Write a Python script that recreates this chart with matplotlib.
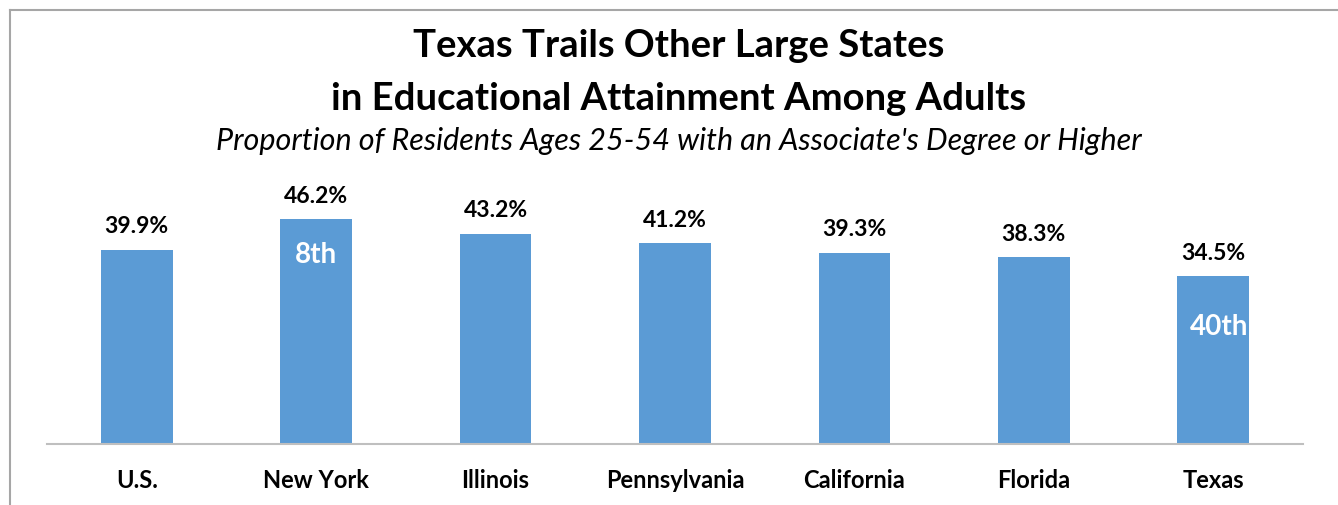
import matplotlib
matplotlib.use("Agg")
import matplotlib.pyplot as plt
from matplotlib.lines import Line2D

categories = ["U.S.", "New York", "Illinois", "Pennsylvania", "California", "Florida", "Texas"]
values = [39.9, 46.2, 43.2, 41.2, 39.3, 38.3, 34.5]
value_labels = ["39.9%", "46.2%", "43.2%", "41.2%", "39.3%", "38.3%", "34.5%"]
rank_labels = {"New York": "8th", "Texas": "40th"}

title1 = "Texas Trails Other Large States"
title2 = "in Educational Attainment Among Adults"
subtitle = "Proportion of Residents Ages 25-54 with an Associate's Degree or Higher"

FONT = ["Lato", "DejaVu Sans"]
plt.rcParams["font.family"] = FONT

fig = plt.figure(figsize=(13.38, 5.06), dpi=100)
W, H = 1338, 506
ax = fig.add_axes([47 / W, 1 - 445 / H, (1303 - 47) / W, (445 - 201.5) / H])

x = list(range(len(categories)))
ax.bar(x, values, width=0.4, color="#5B9BD5", zorder=2)
ax.set_xlim(-0.5, len(categories) - 0.5)
ax.set_ylim(0, 50)

for xi, v, lab in zip(x, values, value_labels):
    ax.annotate(lab, (xi, v), xytext=(0, 12.5), textcoords="offset points",
                ha="center", va="baseline", fontsize=16.5, fontweight="bold",
                color="black", annotation_clip=False)

rank_offsets = {"New York": (0, -25), "Texas": (4, -36)}
for xi, cat in zip(x, categories):
    if cat in rank_labels:
        ax.annotate(rank_labels[cat], (xi, values[xi]), xytext=rank_offsets[cat],
                    textcoords="offset points", ha="center", va="center",
                    fontsize=20, fontweight="bold", color="white")

ax.set_xticks(x)
ax.set_xticklabels(categories, fontsize=17, fontweight="bold")
ax.tick_params(axis="x", length=0, pad=17)
ax.set_yticks([])
for s in ["top", "right", "left"]:
    ax.spines[s].set_visible(False)
ax.spines["bottom"].set_color("#BFBFBF")
ax.spines["bottom"].set_linewidth(1.5)

fig.text(679 / W, 1 - 46 / H, title1, ha="center", va="center", fontsize=27.5, fontweight="bold")
fig.text(679 / W, 1 - 99 / H, title2, ha="center", va="center", fontsize=27.5, fontweight="bold")
fig.text(679 / W, 1 - 141 / H, subtitle, ha="center", va="center", fontsize=22, style="italic")

# outer frame (only top and left visible within image)
fig.add_artist(Line2D([10 / W, 10 / W], [0, 1 - 11 / H], transform=fig.transFigure,
                      color="#A6A6A6", lw=1.5))
fig.add_artist(Line2D([10 / W, 1], [1 - 11 / H, 1 - 11 / H], transform=fig.transFigure,
                      color="#A6A6A6", lw=1.5))

fig.savefig("out.png", dpi=100)
